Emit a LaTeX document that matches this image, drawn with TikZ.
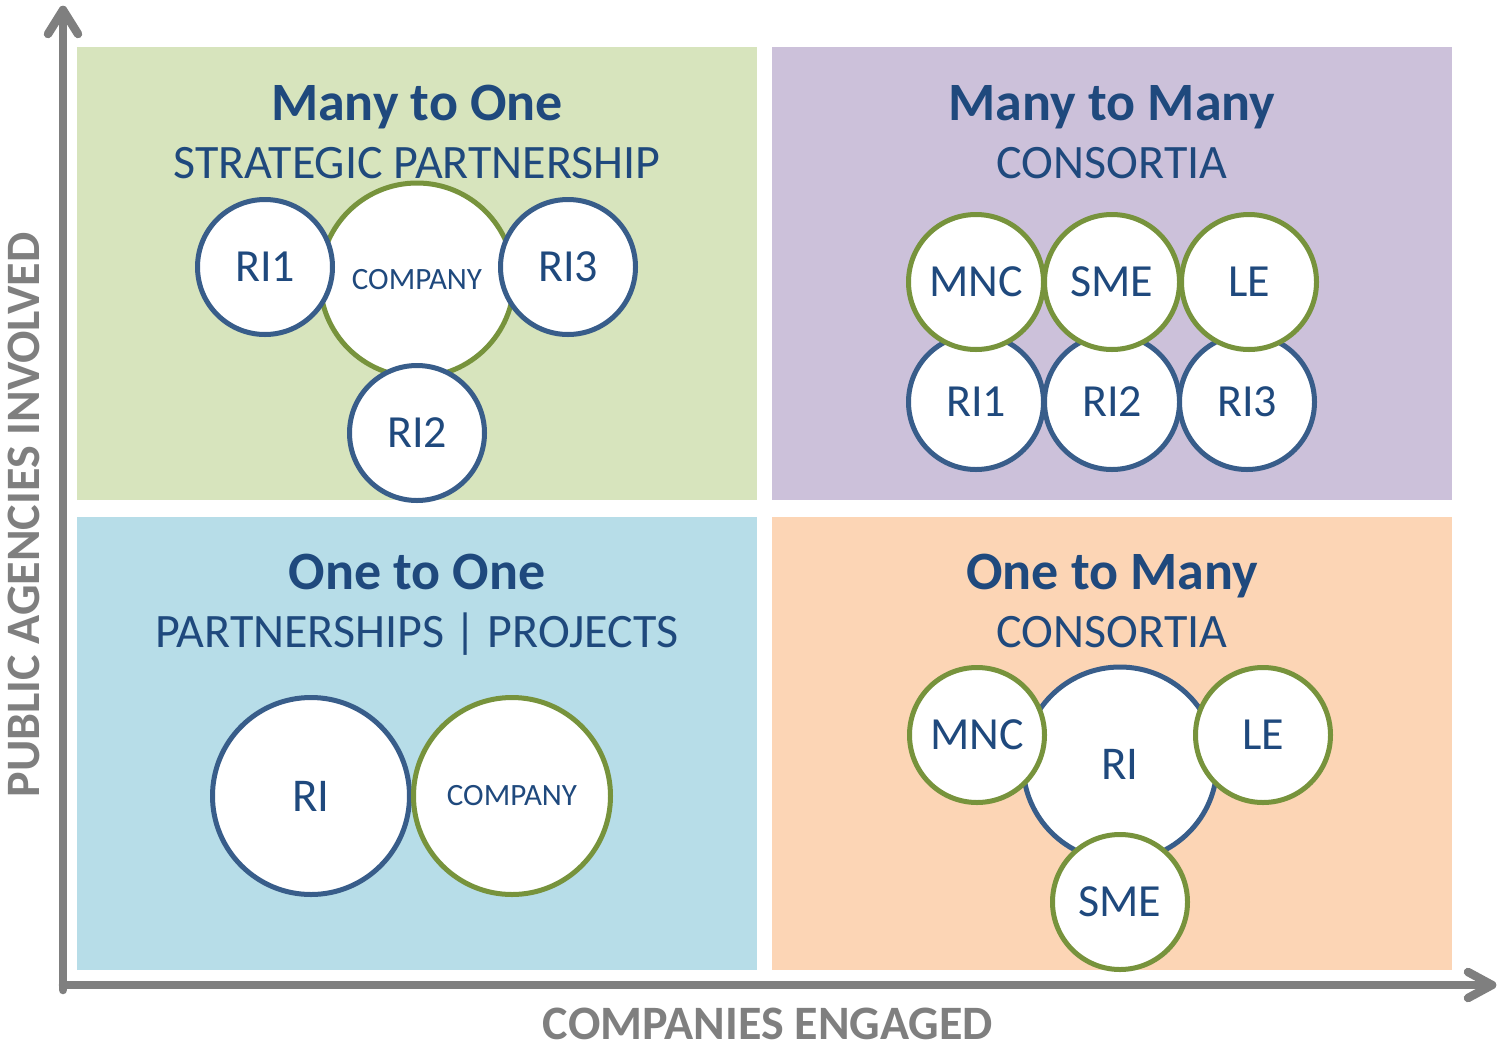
\documentclass[tikz,border=0pt]{standalone}
\usepackage{fontspec}
\setmainfont{Carlito}
\definecolor{tblue}{HTML}{1F497D}
\definecolor{cblue}{HTML}{385D8A}
\definecolor{cgreen}{HTML}{77933C}
\definecolor{axisgray}{HTML}{7F7F7F}
\definecolor{qgreen}{HTML}{D7E4BD}
\definecolor{qpurple}{HTML}{CCC1DA}
\definecolor{qblue}{HTML}{B7DDE8}
\definecolor{qorange}{HTML}{FCD5B5}
\begin{document}
\begin{tikzpicture}[x=1pt,y=-1pt,
  circ/.style={circle, line width=5pt, fill=white, inner sep=0pt, text=tblue},
  bc/.style={circ, draw=cblue},
  gc/.style={circ, draw=cgreen},
  smallc/.style={minimum size=135pt, font=\fontsize{46}{50}\selectfont},
  bigc/.style={minimum size=194pt},
  lbl/.style={font=\fontsize{47}{50}\selectfont},
  comp/.style={font=\fontsize{31}{34}\selectfont},
  title/.style={anchor=base, text=tblue, font=\fontsize{54}{58}\selectfont\bfseries, inner sep=0pt},
  subtitle/.style={anchor=base, text=tblue, font=\fontsize{48}{52}\selectfont, inner sep=0pt},
  axislbl/.style={text=axisgray, font=\fontsize{48}{52}\selectfont\bfseries, inner sep=0pt},
  axisline/.style={draw=axisgray, line width=8.5pt, line cap=round, line join=round},
  quad/.style={inner sep=0pt, minimum width=680pt, minimum height=453pt, draw=none}
]
\useasboundingbox (0,0) rectangle (1499,1047);

% quadrants
\node[quad, fill=qgreen]  (q1) at (417,273.5) {};
\node[quad, fill=qpurple] (q2) at (1112,273.5) {};
\node[quad, fill=qblue]   (q3) at (417,743) {};
\node[quad, fill=qorange] (q4) at (1112,743) {};

% axes
\coordinate (o) at (63,985);
\coordinate (ytip) at (63,10);
\coordinate (xtip) at (1492,985);
\draw[axisline] (63,990) -- (ytip);
\draw[axisline] (o) -- (xtip);
\draw[axisline] ([shift={(-15,24)}]ytip) -- (ytip) -- ([shift={(15,24)}]ytip);
\draw[axisline] ([shift={(-24,-13)}]xtip) -- (xtip) -- ([shift={(-24,13)}]xtip);
\node[axislbl, rotate=90] (ylbl) at (24,515) {PUBLIC AGENCIES INVOLVED};
\node[axislbl] (xlbl) at (768,1024) {COMPANIES ENGAGED};

% titles
\node[title] (t1) at (417,120) {Many to One};
\node[subtitle] (s1) at (417,178) {STRATEGIC PARTNERSHIP};
\node[title] (t2) at (1112,120) {Many to Many};
\node[subtitle] (s2) at (1112,178) {CONSORTIA};
\node[title] (t3) at (417,589) {One to One};
\node[subtitle] (s3) at (417,647) {PARTNERSHIPS | PROJECTS};
\node[title] (t4) at (1112,589) {One to Many};
\node[subtitle] (s4) at (1112,647) {CONSORTIA};

% Many to One
\node[gc, bigc, comp] (mo-co) at (417,280) {COMPANY};
\node[bc, smallc] (mo-r1) at (265,267) {RI1};
\node[bc, smallc] (mo-r3) at (568,267) {RI3};
\node[bc, smallc] (mo-r2) at (417,433) {RI2};

% Many to Many
\node[bc, smallc] (mm-r1) at (976,402) {RI1};
\node[bc, smallc] (mm-r2) at (1112,402) {RI2};
\node[bc, smallc] (mm-r3) at (1247,402) {RI3};
\node[gc, smallc] (mm-mnc) at (976,282) {MNC};
\node[gc, smallc] (mm-sme) at (1112,282) {SME};
\node[gc, smallc] (mm-le) at (1249,282) {LE};

% One to One
\node[bc, minimum size=197pt, lbl] (oo-ri) at (311,796) {RI};
\node[gc, minimum size=197pt, comp] (oo-co) at (512,796) {COMPANY};

% One to Many
\node[bc, bigc, lbl] (om-ri) at (1120,764) {RI};
\node[gc, smallc] (om-mnc) at (977,735) {MNC};
\node[gc, smallc] (om-le) at (1263,735) {LE};
\node[gc, smallc] (om-sme) at (1120,902) {SME};
\end{tikzpicture}
\end{document}
